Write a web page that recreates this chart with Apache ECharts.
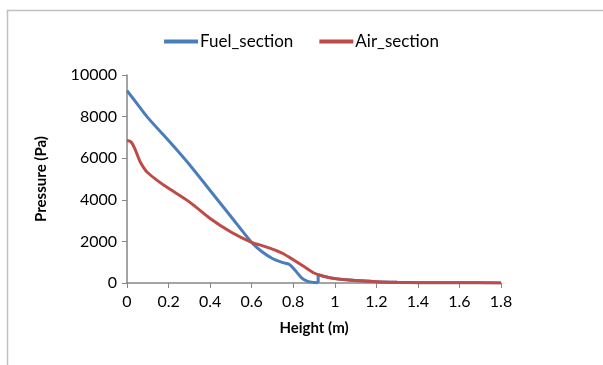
<!DOCTYPE html>
<html>
<head>
<meta charset="utf-8">
<script src="https://cdn.jsdelivr.net/npm/echarts@6/dist/echarts.min.js"></script>
<style>
html, body { margin: 0; padding: 0; background: #fff; }
#chartmain { width: 603px; height: 365px; }
</style>
</head>
<body>
<div id="chartmain"></div>
<script>
// heights (m) and pressures (Pa)
// fuel section: falling part, then the jump at ~0.92 m, then the tail
var fuelHeight = [0, 0.05, 0.1, 0.2, 0.3, 0.4, 0.5, 0.6, 0.65, 0.7, 0.75, 0.78, 0.81, 0.84, 0.87, 0.9, 0.92];
var fuelPressure = [9250, 8600, 7950, 6850, 5700, 4450, 3200, 1950, 1500, 1180, 980, 900, 600, 250, 80, 25, 15];
var fuelJumpHeight = [0.92, 0.92];
var fuelJumpPressure = [15, 410];
var fuelTailHeight = [0.92, 0.95, 1.0, 1.1, 1.2, 1.3, 1.4, 1.6, 1.8];
var fuelTailPressure = [410, 320, 215, 120, 65, 35, 18, 8, 5];

var airHeight = [0, 0.02, 0.04, 0.06, 0.08, 0.1, 0.15, 0.2, 0.3, 0.4, 0.5, 0.6, 0.65, 0.7, 0.75, 0.8, 0.85, 0.9, 0.95, 1.0, 1.1, 1.2, 1.3, 1.4, 1.6, 1.8];
var airPressure = [6850, 6780, 6400, 5900, 5550, 5300, 4900, 4550, 3900, 3100, 2450, 1950, 1800, 1630, 1420, 1120, 800, 480, 310, 210, 120, 65, 35, 18, 8, 5];

var xTicks = [0, 0.2, 0.4, 0.6, 0.8, 1, 1.2, 1.4, 1.6, 1.8];

function pairs(xs, ys) {
	var out = [];
	for (var i = 0; i < xs.length; i++) {
		out.push([xs[i], ys[i]]);
	}
	return out;
}

var font = 'Lato, "Open Sans", sans-serif';
var blue = '#4a7ebb';
var red = '#be4b48';

function fuelPart(data, smooth) {
	return {
		name : 'Fuel_section',
		type : 'line',
		data : data,
		showSymbol : false,
		smooth : smooth,
		itemStyle : { color : blue },
		lineStyle : { color : blue, width : 3 },
		z : 2
	};
}

var option = {
	animation : false,
	textStyle : {
		fontFamily : font
	},
	graphic : [ {
		type : 'rect',
		shape : { x : 7.5, y : 10.5, width : 800, height : 600 },
		style : { fill : 'none', stroke : '#c0c0c0', lineWidth : 1.5 },
		silent : true
	} ],
	legend : {
		top : 28,
		left : 'center',
		itemWidth : 34,
		itemHeight : 4,
		itemGap : 26,
		icon : 'rect',
		textStyle : {
			fontSize : 17,
			color : '#000',
			fontFamily : font,
			padding : [0, 0, 0, -3]
		},
		data : ['Fuel_section', 'Air_section']
	},
	grid : {
		left : 127,
		right : 102,
		top : 75,
		bottom : 82
	},
	xAxis : {
		type : 'value',
		min : 0,
		max : 1.8,
		interval : 0.2,
		name : 'Height (m)',
		nameLocation : 'middle',
		nameGap : 38,
		nameTextStyle : {
			fontWeight : 'bold',
			fontSize : 15,
			color : '#000',
			fontFamily : font
		},
		axisLine : { lineStyle : { color : '#868686', width : 1.5 } },
		axisTick : { show : true, length : 5, lineStyle : { color : '#868686' } },
		splitLine : { show : false },
		axisLabel : {
			fontSize : 16,
			color : '#000',
			margin : 11,
			formatter : function(v) {
				for (var i = 0; i < xTicks.length; i++) {
					if (Math.abs(xTicks[i] - v) < 1e-6) return String(xTicks[i]);
				}
				return '';
			}
		}
	},
	yAxis : {
		type : 'value',
		min : 0,
		max : 10000,
		interval : 2000,
		name : 'Pressure (Pa)',
		nameLocation : 'middle',
		nameGap : 78,
		nameTextStyle : {
			fontWeight : 'bold',
			fontSize : 15,
			color : '#000',
			fontFamily : font
		},
		axisLine : { show : true, lineStyle : { color : '#868686', width : 1.5 } },
		axisTick : { show : true, length : 5, lineStyle : { color : '#868686' } },
		splitLine : { show : false },
		axisLabel : {
			fontSize : 16,
			color : '#000',
			margin : 10,
			formatter : function(v) { return String(v); }
		}
	},
	series : [
		fuelPart(pairs(fuelHeight, fuelPressure), 0.3),
		fuelPart(pairs(fuelJumpHeight, fuelJumpPressure), false),
		fuelPart(pairs(fuelTailHeight, fuelTailPressure), 0.3),
		{
			name : 'Air_section',
			type : 'line',
			data : pairs(airHeight, airPressure),
			showSymbol : false,
			smooth : 0.3,
			itemStyle : { color : red },
			lineStyle : { color : red, width : 3 },
			z : 3
		}
	]
};

var myChart = echarts.init(document.getElementById('chartmain'));
myChart.setOption(option);
</script>
</body>
</html>
